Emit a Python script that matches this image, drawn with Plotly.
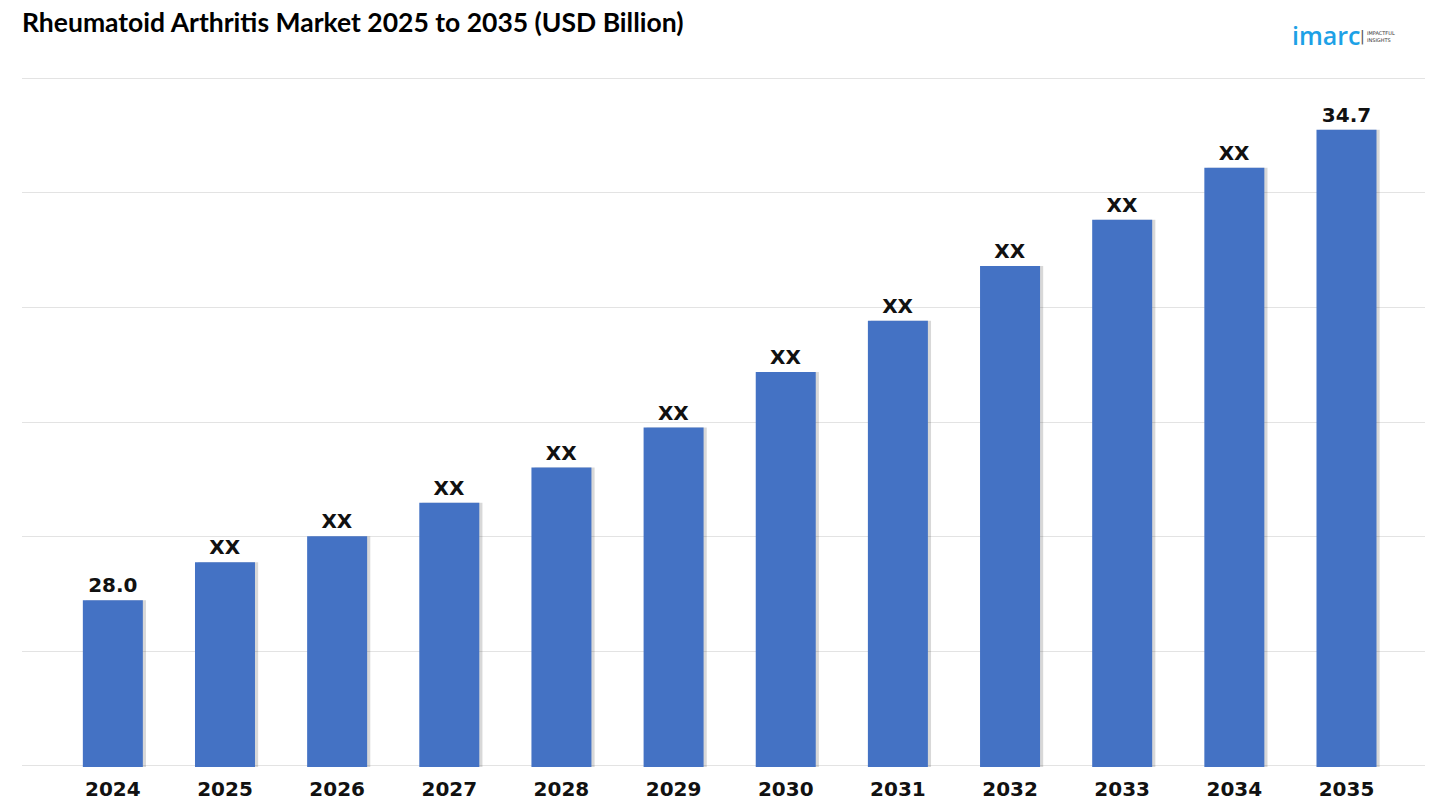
import plotly.graph_objects as go

years = ["2024", "2025", "2026", "2027", "2028", "2029", "2030", "2031", "2032", "2033", "2034", "2035"]
values = [28.0, 28.54, 28.91, 29.39, 29.89, 30.46, 31.25, 31.98, 32.76, 33.42, 34.16, 34.7]
labels = ["28.0", "XX", "XX", "XX", "XX", "XX", "XX", "XX", "XX", "XX", "XX", "34.7"]

y_min = 25.64
y_step = 1.633
n_grid = 6
y_max = y_min + y_step * n_grid
grid_vals = [y_min + y_step * k for k in range(n_grid + 1)]
pad = 0.015

bar_w = 0.535
x_idx = list(range(len(years)))

fig = go.Figure()

# soft drop shadow
fig.add_trace(go.Bar(
    x=x_idx, y=values, width=bar_w, offset=-bar_w / 2 + 0.028,
    marker=dict(color="rgba(60,60,60,0.2)", line=dict(width=0)),
    hoverinfo="skip", showlegend=False,
))
fig.add_trace(go.Bar(
    x=x_idx, y=values, width=bar_w, offset=-bar_w / 2,
    marker=dict(color="#4472C4", line=dict(width=0)),
    text=labels, textposition="outside", cliponaxis=False,
    textfont=dict(family="DejaVu Sans", size=20, color="#111111", weight="bold"),
    showlegend=False,
))

L, R, T, B = 22, 15, 77, 43
fig.update_layout(
    width=1440, height=810,
    margin=dict(l=L, r=R, t=T, b=B),
    paper_bgcolor="white", plot_bgcolor="white",
    barmode="overlay",
    title=dict(
        text="<b>Rheumatoid Arthritis Market 2025 to 2035 (USD Billion)</b>",
        x=22 / 1440, xref="container", xanchor="left",
        y=1 - 23 / 810, yref="container", yanchor="middle",
        font=dict(family="Lato", size=26.5, color="#000000"),
    ),
    xaxis=dict(
        range=[-0.81, 11.70],
        tickmode="array", tickvals=x_idx, ticktext=years,
        tickfont=dict(family="DejaVu Sans", size=20, color="#111111", weight="bold"),
        ticks="outside", ticklen=4, tickcolor="rgba(0,0,0,0)",
        showgrid=False, zeroline=False, showline=False, automargin=False,
    ),
    yaxis=dict(
        range=[y_min - pad, y_max + pad],
        tickmode="array", tickvals=grid_vals, showticklabels=False,
        showgrid=True, gridcolor="#e3e3e3", gridwidth=1,
        zeroline=False, showline=False, automargin=False,
    ),
    annotations=[
        dict(text="imarc", x=1290, y=35, xref="paper", yref="paper",
             showarrow=False, xanchor="left", yanchor="middle",
             font=dict(family="Open Sans", size=25, color="#1DA1E6", weight=600)),
        dict(text="|", x=1358, y=36, xref="paper", yref="paper",
             showarrow=False, xanchor="left", yanchor="middle",
             font=dict(family="DejaVu Sans", size=14, color="#555555")),
        dict(text="IMPACTFUL<br>INSIGHTS", x=1365, y=37, xref="paper", yref="paper",
             showarrow=False, xanchor="left", yanchor="middle", align="left",
             font=dict(family="DejaVu Sans", size=5, color="#333333")),
    ],
)

# convert logo pixel positions to paper coords
for ann in fig.layout.annotations:
    px, py = ann.x, ann.y
    ann.x = (px - L) / (1440 - L - R)
    ann.y = (810 - B - py) / (810 - T - B)

fig.write_html("out.html", config={"displayModeBar": False},
               post_script="document.body.style.margin='0';")
